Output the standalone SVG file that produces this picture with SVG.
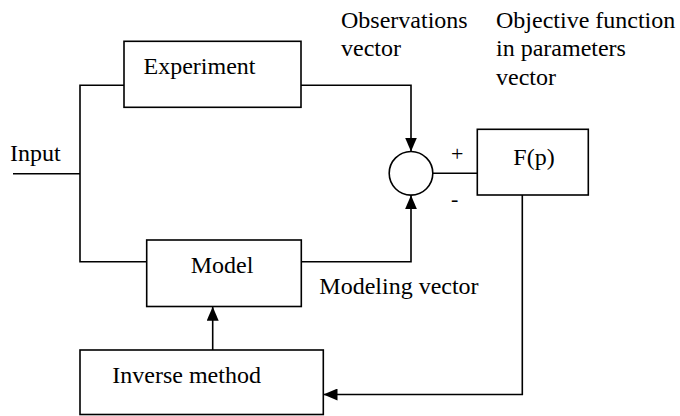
<svg xmlns="http://www.w3.org/2000/svg" width="680" height="416" viewBox="0 0 680 416" font-family="'Liberation Serif', 'Times New Roman', serif" font-size="24">
<defs>
<style>
.box{fill:#fff;stroke:#000;stroke-width:1.6}
.ln{fill:none;stroke:#000;stroke-width:1.6}
.t{font-family:'Liberation Serif','Times New Roman',serif;font-size:24px;fill:#000}
</style>
<marker id="ah" viewBox="0 0 14 12" refX="14" refY="6" markerWidth="14" markerHeight="12" markerUnits="userSpaceOnUse" orient="auto">
<path d="M0,0 L14,6 L0,12 Z" fill="#000"/>
</marker>
</defs>
<rect width="680" height="416" fill="#fff"/>
<g id="connectors">
<path class="ln" d="M13,173.7 H80"/>
<path class="ln" d="M124,85.3 H80 V261.7 H146.7"/>
<path class="ln" d="M301,85.3 H411 V151.5" marker-end="url(#ah)"/>
<path class="ln" d="M301.3,261.7 H411 V195.3" marker-end="url(#ah)"/>
<path class="ln" d="M433,173.3 H477.3"/>
<path class="ln" d="M522.3,195 V394.5 H323.5" marker-end="url(#ah)"/>
<path class="ln" d="M212.7,350 V306.7" marker-end="url(#ah)"/>
</g>
<g id="experiment">
<rect class="box" x="124" y="41.3" width="177" height="66"/>
<text class="t" x="143.5" y="74">Experiment</text>
</g>
<g id="model">
<rect class="box" x="146.7" y="240" width="154.6" height="66.5"/>
<text class="t" x="190.7" y="273.3">Model</text>
</g>
<g id="inverse">
<rect class="box" x="80" y="350" width="243.3" height="64.5"/>
<text class="t" x="112.3" y="382.7">Inverse method</text>
</g>
<g id="sum">
<circle class="box" cx="411" cy="173.3" r="21.8"/>
<text class="t" x="451" y="161" style="font-size:22px">+</text>
<text class="t" x="451" y="206" style="font-size:22px">-</text>
</g>
<g id="fp">
<rect class="box" x="477.3" y="129.3" width="111" height="65.7"/>
<text class="t" x="513.3" y="165">F(p)</text>
</g>
<g id="labels">
<text class="t" x="10" y="160.7">Input</text>
<text class="t" x="341" y="27.5">Observations</text>
<text class="t" x="341" y="56">vector</text>
<text class="t" x="496" y="27.5">Objective function</text>
<text class="t" x="496" y="56">in parameters</text>
<text class="t" x="496" y="84.5">vector</text>
<text class="t" x="319.3" y="294">Modeling vector</text>
</g>
</svg>
